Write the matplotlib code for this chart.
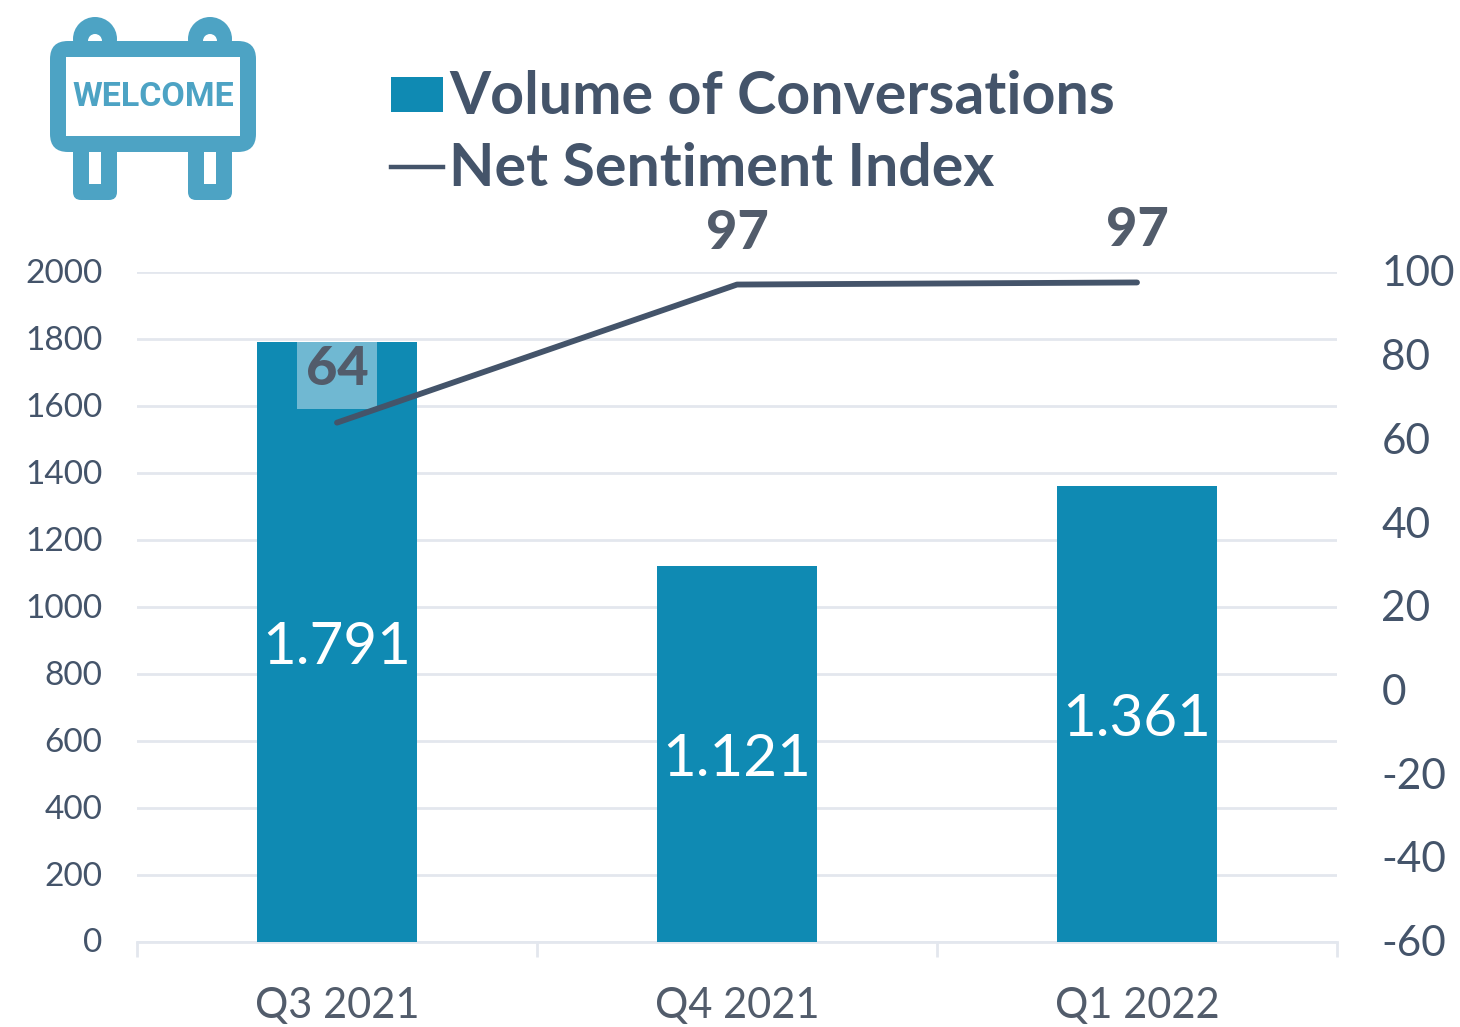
import matplotlib
matplotlib.use('Agg')
import matplotlib.pyplot as plt
from matplotlib.patches import FancyBboxPatch, Circle, Rectangle
from matplotlib.transforms import ScaledTranslation

plt.rcParams['font.family'] = ['Lato', 'DejaVu Sans']
plt.rcParams['axes.unicode_minus'] = False

W, H = 1460, 1027

quarters = ['Q3 2021', 'Q4 2021', 'Q1 2022']
volume = [1791, 1121, 1361]
volume_labels = ['1.791', '1.121', '1.361']
sentiment = [64, 97, 97.5]
sentiment_labels = ['64', '97', '97']
left_ticks = [0, 200, 400, 600, 800, 1000, 1200, 1400, 1600, 1800, 2000]
right_ticks = [-60, -40, -20, 0, 20, 40, 60, 80, 100]

bar_col = '#0f8ab3'
line_col = '#44546a'
text_col = '#525c6b'
grid_col = '#e3e7ee'
icon_col = '#4da3c4'

fig = plt.figure(figsize=(W / 100, H / 100), dpi=100)
ax = fig.add_axes([137 / W, 1 - 941.5 / H, 1200 / W, 669.5 / H])

x = range(len(quarters))
ax.bar(x, volume, width=0.4, color=bar_col, zorder=3)
ax.set_xlim(-0.5, 2.5)
ax.set_ylim(0, 2000)
ax.set_yticks(left_ticks)
ax.set_xticks([-0.5, 0.5, 1.5, 2.5])
ax.set_xticklabels([])
ax.set_xticks(list(x), minor=True)
ax.set_xticklabels(quarters, minor=True, fontsize=30, color=text_col)
ax.tick_params(axis='x', which='major', length=11, width=2, color=grid_col)
ax.tick_params(axis='x', which='minor', length=0, pad=33)
ax.tick_params(axis='y', length=0, labelsize=24, labelcolor=line_col, pad=25)
ax.grid(axis='y', color=grid_col, lw=2, zorder=0)
for s in ['top', 'left', 'right']:
    ax.spines[s].set_visible(False)
ax.spines['bottom'].set_color(grid_col)
ax.spines['bottom'].set_linewidth(2)

for i, lab in zip(x, volume_labels):
    ax.text(i, volume[i] / 2 - 18, lab, color='white', fontsize=42, ha='center', va='center', zorder=5)

ax2 = ax.twinx()
ax2.set_ylim(-60, 100)
ax2.set_yticks(right_ticks)
ax2.tick_params(axis='y', length=0, labelsize=30.5, labelcolor=line_col, pad=32)
for s in ax2.spines.values():
    s.set_visible(False)
ax2.plot(list(x), sentiment, color=line_col, lw=4.2, solid_capstyle='round', zorder=6)

# nudge y tick labels up a pixel
nudge = ScaledTranslation(0, 1 / 100, fig.dpi_scale_trans)
for lab in ax.get_yticklabels() + ax2.get_yticklabels():
    lab.set_transform(lab.get_transform() + nudge)

# data label box behind the first sentiment value
ax.add_patch(Rectangle((-0.1, 1590), 0.2, 200, facecolor='#70b8d2', edgecolor='none', zorder=4))
ax2.text(0, 76.6, sentiment_labels[0], color=text_col, fontsize=39, fontweight='black', ha='center', va='center', zorder=7)
ax2.text(1, 109.3, sentiment_labels[1], color=text_col, fontsize=39, fontweight='black', ha='center', va='center')
ax2.text(2, 109.8, sentiment_labels[2], color=text_col, fontsize=39, fontweight='black', ha='center', va='center')

# overlay in pixel coordinates for legend and icon
ov = fig.add_axes([0, 0, 1, 1], zorder=10)
ov.set_xlim(0, W)
ov.set_ylim(H, 0)
ov.axis('off')
ov.patch.set_alpha(0)

ov.add_patch(Rectangle((391, 77), 52, 35, facecolor=bar_col, edgecolor='none'))
ov.plot([391, 443], [167, 167], color=line_col, lw=3.2)
ov.text(449, 97, 'Volume of Conversations', color=line_col, fontsize=42.6, fontweight='bold', va='center')
ov.text(449, 169, 'Net Sentiment Index', color=line_col, fontsize=42.6, fontweight='bold', va='center')

# welcome sign
for cx in [95, 210]:
    ov.add_patch(Circle((cx, 39), 22, facecolor=icon_col, edgecolor='none', zorder=1))
    ov.add_patch(Circle((cx, 41), 7, facecolor='white', edgecolor='none', zorder=1.5))
    ov.add_patch(FancyBboxPatch((cx - 17, 145), 34, 50, boxstyle='round,pad=5,rounding_size=8',
                                facecolor=icon_col, edgecolor='none', zorder=1))
    ov.add_patch(Rectangle((cx - 6, 152), 12, 32, facecolor='white', edgecolor='none', zorder=3))
ov.add_patch(FancyBboxPatch((66, 57), 174, 79, boxstyle='round,pad=16,rounding_size=18',
                            facecolor=icon_col, edgecolor='none', zorder=2))
ov.add_patch(Rectangle((66, 57), 174, 79, facecolor='white', edgecolor='none', zorder=3))
ov.text(153, 97, 'WELCOME', color=icon_col, fontsize=24.5, fontweight='bold', family='Roboto',
        ha='center', va='center', zorder=4)

fig.savefig('out.png', dpi=100)
